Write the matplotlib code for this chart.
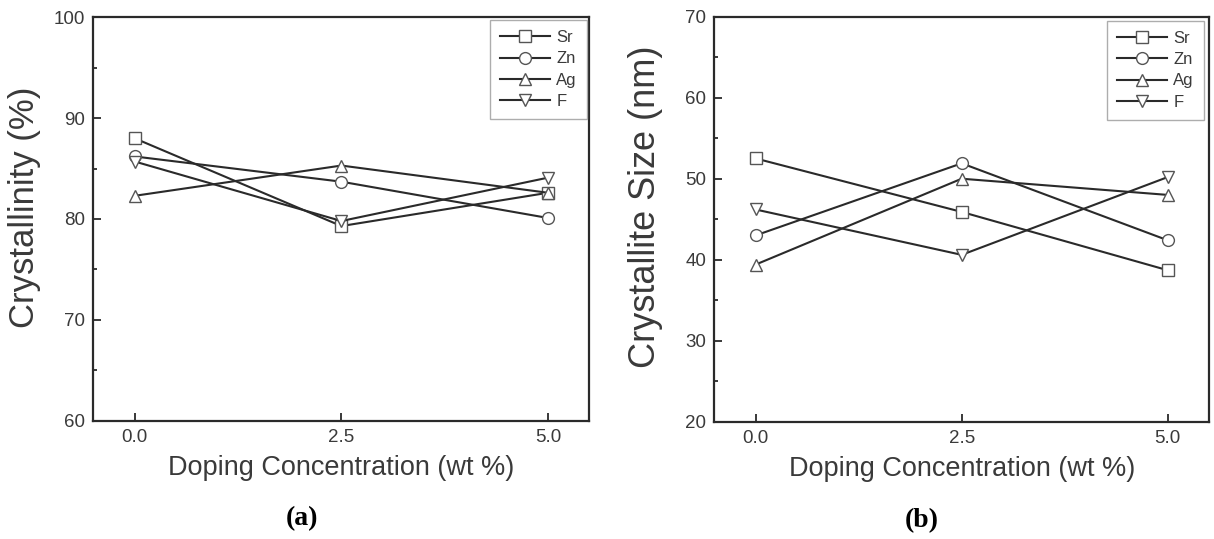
import matplotlib.pyplot as plt

plt.rcParams['font.family'] = ['Liberation Sans', 'DejaVu Sans']

doping = [0.0, 2.5, 5.0]
dopants = ['Sr', 'Zn', 'Ag', 'F']
markers = ['s', 'o', '^', 'v']

# crystallinity (%)
cryst_sr = [88.0, 79.3, 82.6]
cryst_zn = [86.2, 83.7, 80.1]
cryst_ag = [82.3, 85.3, 82.6]
cryst_f = [85.7, 79.8, 84.1]

# crystallite size (nm)
size_sr = [52.5, 45.9, 38.7]
size_zn = [43.0, 51.9, 42.4]
size_ag = [39.4, 50.0, 48.0]
size_f = [46.2, 40.6, 50.2]

ink = '#2a2a2a'
txt = '#3a3a3a'

fig = plt.figure(figsize=(12.14, 5.39), dpi=100)
ax1 = fig.add_axes([0.0769, 0.2195, 0.4086, 0.7484])
ax2 = fig.add_axes([0.5885, 0.2176, 0.4073, 0.7514])


def draw(ax, series, ylim, ylabel, ylabel_size, leg_anchor):
    for vals, name, m in zip(series, dopants, markers):
        ms = 9 if m in ('^', 'v') else 8.5
        ax.plot(doping, vals, color=ink, lw=1.5, marker=m, ms=ms,
                mfc='white', mec='#555555', mew=1.0, label=name)
    ax.set_xlim(-0.5, 5.5)
    ax.set_ylim(*ylim)
    ax.set_xticks(doping)
    ax.set_xticklabels(['0.0', '2.5', '5.0'])
    ax.set_yticks(range(ylim[0], ylim[1] + 1, 10))
    ax.set_yticks(range(ylim[0] + 5, ylim[1], 10), minor=True)
    ax.tick_params(direction='in', labelsize=13.5, colors=ink, width=1.3,
                   length=6, pad=6, labelcolor=txt)
    ax.tick_params(which='minor', direction='in', length=3, width=1.3,
                   colors=ink)
    for sp in ax.spines.values():
        sp.set_linewidth(1.6)
        sp.set_color(ink)
    ax.set_xlabel('Doping Concentration (wt %)', fontsize=19.5, color=txt)
    ax.xaxis.set_label_coords(0.5, -0.085)
    ax.set_ylabel(ylabel, fontsize=ylabel_size, color=txt)
    ax.yaxis.set_label_coords(-0.105, 0.53)
    leg = ax.legend(loc='upper right', fontsize=12, frameon=True,
                    fancybox=False, handlelength=3.0, handletextpad=0.4,
                    borderpad=0.6, labelspacing=0.38, borderaxespad=0,
                    bbox_to_anchor=leg_anchor)
    leg.get_frame().set_edgecolor('#999999')
    leg.get_frame().set_linewidth(1.0)
    for t in leg.get_texts():
        t.set_color(txt)


draw(ax1, [cryst_sr, cryst_zn, cryst_ag, cryst_f], (60, 100),
     'Crystallinity (%)', 25, (0.995, 0.993))
draw(ax2, [size_sr, size_zn, size_ag, size_f], (20, 70),
     'Crystallite Size (nm)', 26, (0.99, 0.99))

fig.text(302 / 1214, 1 - 519 / 539, '(a)', ha='center', va='center',
         fontsize=20, fontweight='bold', family='Liberation Serif')
fig.text(922 / 1214, 1 - 521 / 539, '(b)', ha='center', va='center',
         fontsize=20, fontweight='bold', family='Liberation Serif')

fig.savefig('out.png', dpi=100)
